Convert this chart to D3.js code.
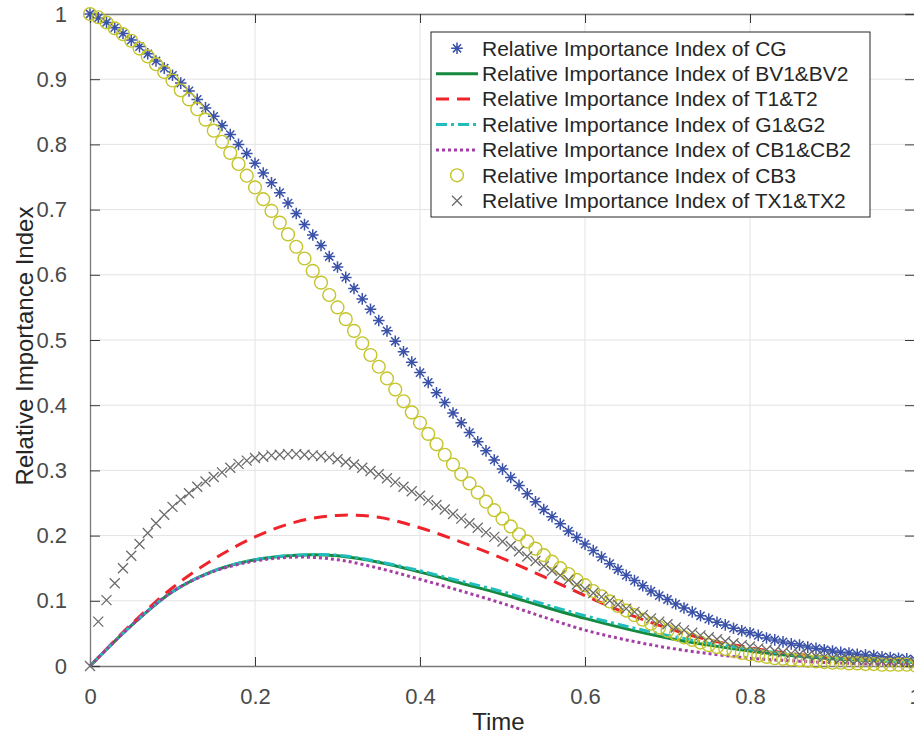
<!DOCTYPE html>
<html lang="en">
<head>
<meta charset="utf-8">
<title>Relative Importance Index</title>
<script src="https://cdn.jsdelivr.net/npm/d3@7"></script>
<style>
  body { margin: 0; background: #fff; }
  text { font-family: "Liberation Sans", Arial, sans-serif; }
</style>
</head>
<body>
<script>
// time grid of the marker series (0, 0.01, ... 1)
var markerTime = d3.range(101).map(function(i) { return i / 100; });
// time grid of the line series
var lineTime = d3.range(21).map(function(i) { return i / 20; });

var cgValues = [
  1.000,0.994,0.987,0.979,0.970,0.960,0.950,0.939,0.928,0.917,
  0.906,0.894,0.882,0.869,0.856,0.843,0.829,0.815,0.800,0.786,
  0.771,0.756,0.741,0.726,0.710,0.694,0.677,0.661,0.645,0.628,
  0.612,0.596,0.579,0.563,0.547,0.530,0.514,0.498,0.482,0.466,
  0.450,0.435,0.419,0.404,0.388,0.373,0.358,0.344,0.330,0.316,
  0.302,0.289,0.277,0.264,0.252,0.240,0.229,0.218,0.207,0.197,
  0.187,0.177,0.167,0.157,0.148,0.139,0.131,0.123,0.115,0.108,
  0.102,0.095,0.089,0.083,0.077,0.072,0.067,0.063,0.058,0.054,
  0.051,0.047,0.043,0.040,0.037,0.034,0.032,0.029,0.027,0.025,
  0.023,0.021,0.020,0.018,0.017,0.016,0.014,0.013,0.012,0.011,
  0.010];

var cb3Values = [
  1.000,0.995,0.987,0.978,0.969,0.959,0.947,0.935,0.923,0.911,
  0.898,0.883,0.869,0.854,0.838,0.821,0.804,0.787,0.770,0.752,
  0.734,0.716,0.698,0.680,0.662,0.643,0.625,0.606,0.588,0.569,
  0.550,0.532,0.514,0.495,0.477,0.459,0.441,0.424,0.406,0.389,
  0.373,0.356,0.340,0.324,0.309,0.294,0.280,0.266,0.252,0.239,
  0.226,0.214,0.202,0.191,0.180,0.170,0.160,0.150,0.141,0.132,
  0.124,0.115,0.107,0.099,0.092,0.085,0.078,0.071,0.065,0.059,
  0.054,0.049,0.044,0.040,0.036,0.032,0.029,0.026,0.023,0.020,
  0.018,0.016,0.014,0.012,0.011,0.010,0.009,0.008,0.007,0.006,
  0.005,0.005,0.004,0.004,0.003,0.003,0.002,0.002,0.002,0.002,
  0.001];

var txValues = [
  0.000,0.068,0.101,0.127,0.150,0.169,0.187,0.204,0.219,0.232,
  0.244,0.255,0.265,0.275,0.283,0.290,0.297,0.304,0.310,0.315,
  0.319,0.321,0.323,0.324,0.325,0.325,0.324,0.323,0.322,0.320,
  0.317,0.313,0.309,0.304,0.299,0.294,0.288,0.282,0.275,0.268,
  0.261,0.254,0.247,0.240,0.233,0.226,0.219,0.212,0.205,0.198,
  0.191,0.184,0.176,0.168,0.161,0.153,0.146,0.139,0.132,0.125,
  0.118,0.112,0.106,0.100,0.094,0.088,0.083,0.078,0.073,0.068,
  0.064,0.059,0.055,0.051,0.047,0.044,0.041,0.038,0.035,0.032,
  0.030,0.027,0.025,0.023,0.021,0.019,0.018,0.016,0.015,0.014,
  0.012,0.011,0.010,0.009,0.009,0.008,0.007,0.007,0.006,0.006,
  0.005];

var bvValues  = [0.000,0.062,0.114,0.146,0.163,0.170,0.169,0.159,0.144,0.127,0.110,0.091,0.073,0.057,0.043,0.032,0.023,0.016,0.011,0.008,0.006];
var t1Values  = [0.000,0.064,0.120,0.164,0.198,0.221,0.231,0.228,0.212,0.190,0.165,0.137,0.108,0.081,0.058,0.040,0.028,0.019,0.013,0.009,0.006];
var g1Values  = [0.000,0.062,0.114,0.146,0.163,0.170,0.170,0.160,0.146,0.130,0.114,0.095,0.077,0.061,0.047,0.035,0.026,0.018,0.013,0.009,0.006];
var cb1Values = [0.000,0.062,0.114,0.145,0.161,0.167,0.163,0.150,0.133,0.115,0.096,0.075,0.055,0.040,0.028,0.019,0.012,0.008,0.005,0.003,0.002];

var xTicks = [0, 0.2, 0.4, 0.6, 0.8, 1];
var yTicks = [0, 0.1, 0.2, 0.3, 0.4, 0.5, 0.6, 0.7, 0.8, 0.9, 1];

var legendLabels = [
  "Relative Importance Index of CG",
  "Relative Importance Index of BV1&BV2",
  "Relative Importance Index of T1&T2",
  "Relative Importance Index of G1&G2",
  "Relative Importance Index of CB1&CB2",
  "Relative Importance Index of CB3",
  "Relative Importance Index of TX1&TX2"
];

//Width and height
var w = 914;
var h = 737;
var margin = { top: 14, right: -1, bottom: 71, left: 90 };
var pw = w - margin.left - margin.right;
var ph = h - margin.top - margin.bottom;

var xScale = d3.scaleLinear().domain([0, 1]).range([0, pw]);
var yScale = d3.scaleLinear().domain([0, 1]).range([ph, 0]);

var svg = d3.select("body")
  .append("svg")
  .attr("width", w)
  .attr("height", h);

var g = svg.append("g")
  .attr("transform", "translate(" + margin.left + "," + margin.top + ")");

//grid
g.append("g")
  .selectAll("line.gx")
  .data(xTicks.slice(1))
  .enter()
  .append("line")
  .attr("x1", function(d) { return xScale(d); })
  .attr("x2", function(d) { return xScale(d); })
  .attr("y1", 0)
  .attr("y2", ph)
  .attr("stroke", "#e3e3e3")
  .attr("stroke-width", 1);

g.append("g")
  .selectAll("line.gy")
  .data(yTicks.slice(1))
  .enter()
  .append("line")
  .attr("x1", 0)
  .attr("x2", pw)
  .attr("y1", function(d) { return yScale(d); })
  .attr("y2", function(d) { return yScale(d); })
  .attr("stroke", "#e3e3e3")
  .attr("stroke-width", 1);

//axes
var xAxis = d3.axisBottom(xScale)
  .tickValues(xTicks)
  .tickSize(-9)
  .tickPadding(22)
  .tickFormat(d3.format("~g"));
var yAxis = d3.axisLeft(yScale)
  .tickValues(yTicks)
  .tickSize(-10)
  .tickPadding(23)
  .tickFormat(d3.format("~g"));

var xAxisTop = d3.axisTop(xScale).tickValues(xTicks).tickSize(-9).tickFormat("");
var yAxisRight = d3.axisRight(yScale).tickValues(yTicks).tickSize(-10).tickFormat("");

function styleAxis(sel) {
  sel.select(".domain").attr("stroke", "#7a7a7a").attr("stroke-width", 1.3);
  sel.selectAll(".tick line").attr("stroke", "#3a3a3a").attr("stroke-width", 1);
  sel.selectAll(".tick text")
    .attr("fill", "#4a4a4a")
    .style("font-size", "22px")
    .style("font-family", "'Liberation Sans', Arial, sans-serif");
}

g.append("g").attr("transform", "translate(0," + ph + ")").call(xAxis).call(styleAxis);
g.append("g").call(yAxis).call(styleAxis);
g.append("g").call(xAxisTop).call(styleAxis);
g.append("g").attr("transform", "translate(" + pw + ",0)").call(yAxisRight).call(styleAxis);

//line generator
var line = d3.line()
  .x(function(d) { return xScale(d[0]); })
  .y(function(d) { return yScale(d[1]); })
  .curve(d3.curveCatmullRom.alpha(0.5));

function pairs(xs, ys) {
  return xs.map(function(x, i) { return [x, ys[i]]; });
}

var series = [
  { kind: "star",   color: "#3a52a8", values: cgValues },
  { kind: "line",   color: "#158a3e", values: bvValues,  dash: null },
  { kind: "line",   color: "#f0232b", values: t1Values,  dash: "13,8" },
  { kind: "line",   color: "#22bcbc", values: g1Values,  dash: "11,4,3,4" },
  { kind: "line",   color: "#a43ea4", values: cb1Values, dash: "3,3" },
  { kind: "circle", color: "#c4c42c", values: cb3Values },
  { kind: "cross",  color: "#6b6b6b", values: txValues }
];

function starPath(r) {
  var d = r * 0.7071;
  return "M0," + (-r) + "V" + r + "M" + (-r) + ",0H" + r +
    "M" + (-d) + "," + (-d) + "L" + d + "," + d +
    "M" + (-d) + "," + d + "L" + d + "," + (-d);
}
function crossPath(r) {
  return "M" + (-r) + "," + (-r) + "L" + r + "," + r +
    "M" + (-r) + "," + r + "L" + r + "," + (-r);
}

function drawMarker(sel, kind, color) {
  if (kind === "star") {
    sel.append("path").attr("d", starPath(5.8))
      .attr("stroke", color).attr("stroke-width", 1.5).attr("fill", "none");
  } else if (kind === "circle") {
    sel.append("circle").attr("r", 6.4)
      .attr("stroke", color).attr("stroke-width", 1.4).attr("fill", "none");
  } else if (kind === "cross") {
    sel.append("path").attr("d", crossPath(5))
      .attr("stroke", color).attr("stroke-width", 1.3).attr("fill", "none");
  }
}

series.forEach(function(s) {
  if (s.kind === "line") {
    g.append("path")
      .datum(pairs(lineTime, s.values))
      .attr("d", line)
      .attr("fill", "none")
      .attr("stroke", s.color)
      .attr("stroke-width", 3)
      .attr("stroke-dasharray", s.dash);
  } else {
    g.append("g")
      .selectAll("g")
      .data(pairs(markerTime, s.values))
      .enter()
      .append("g")
      .attr("transform", function(d) { return "translate(" + xScale(d[0]) + "," + yScale(d[1]) + ")"; })
      .each(function() { drawMarker(d3.select(this), s.kind, s.color); });
  }
});

//axis labels
svg.append("text")
  .attr("x", margin.left + xScale(0.5) - 4)
  .attr("y", 730)
  .attr("text-anchor", "middle")
  .attr("fill", "#262626")
  .style("font-size", "24px")
  .text("Time");

svg.append("text")
  .attr("transform", "translate(33," + (margin.top + ph / 2 + 6) + ") rotate(-90)")
  .attr("text-anchor", "middle")
  .attr("fill", "#262626")
  .style("font-size", "24px")
  .text("Relative Importance Index");

//legend
var lx = 431, ly = 32, lw = 439, lh = 185, rowH = 25.4;
var legend = svg.append("g");
legend.append("rect")
  .attr("x", lx).attr("y", ly)
  .attr("width", lw).attr("height", lh)
  .attr("fill", "#fff")
  .attr("stroke", "#262626")
  .attr("stroke-width", 1);

var rows = legend.selectAll("g.row")
  .data(series)
  .enter()
  .append("g")
  .attr("transform", function(d, i) { return "translate(0," + (ly + 16.3 + i * rowH) + ")"; });

rows.each(function(s, i) {
  var r = d3.select(this);
  if (s.kind === "line") {
    r.append("line")
      .attr("x1", 436).attr("x2", 478)
      .attr("y1", 0).attr("y2", 0)
      .attr("stroke", s.color)
      .attr("stroke-width", 3)
      .attr("stroke-dasharray", s.dash);
  } else {
    var m = r.append("g").attr("transform", "translate(457,0)");
    drawMarker(m, s.kind, s.color);
  }
  r.append("text")
    .attr("x", 482)
    .attr("y", 0)
    .attr("dy", "0.35em")
    .attr("fill", "#262626")
    .style("font-size", "21px")
    .text(legendLabels[i]);
});
</script>
</body>
</html>
